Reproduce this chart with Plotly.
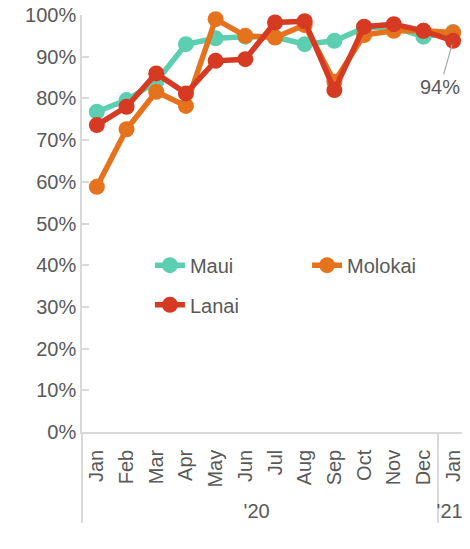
import plotly.graph_objects as go

years = ["'20"] * 12 + ["'21"]
months = ["Jan", "Feb", "Mar", "Apr", "May", "Jun", "Jul", "Aug", "Sep", "Oct", "Nov", "Dec", "Jan"]

maui = [0.768, 0.796, 0.840, 0.930, 0.944, 0.948, 0.947, 0.930, 0.938, 0.969, 0.971, 0.948, 0.959]
molokai = [0.588, 0.726, 0.816, 0.782, 0.990, 0.950, 0.946, 0.976, 0.840, 0.952, 0.962, 0.962, 0.958]
lanai = [0.736, 0.780, 0.860, 0.812, 0.890, 0.894, 0.982, 0.985, 0.820, 0.972, 0.978, 0.962, 0.938]

y_ticks = [i / 10 for i in range(11)]

FONT = "Liberation Sans"
GREY = "#595959"

fig = go.Figure()
series = [
    ("Maui", maui, "#5CCFB0", "legend"),
    ("Molokai", molokai, "#E5731E", "legend2"),
    ("Lanai", lanai, "#D63A22", "legend3"),
]
for name, vals, color, lg in series:
    fig.add_trace(go.Scatter(
        x=[years, months], y=vals, name=name, mode="lines+markers",
        line=dict(color=color, width=5.5), marker=dict(color=color, size=16),
        legend=lg, cliponaxis=False,
    ))

fig.add_annotation(
    x=12, y=lanai[-1], xref="x", yref="y", text="94%",
    showarrow=True, arrowhead=0, arrowwidth=1.2, arrowcolor="#A6A6A6",
    ax=-13, ay=46, standoff=4,
    font=dict(family=FONT, size=20, color=GREY),
)

leg = dict(orientation="h", xanchor="left", yanchor="middle",
           font=dict(family=FONT, size=20, color=GREY), bgcolor="rgba(0,0,0,0)")
fig.update_layout(
    width=462, height=541,
    margin=dict(l=74, r=2, t=7, b=117),
    paper_bgcolor="white", plot_bgcolor="white",
    font=dict(family=FONT, size=20, color=GREY),
    showlegend=True,
    legend=dict(leg, x=0.176, y=0.40),
    legend2=dict(leg, x=0.583, y=0.40),
    legend3=dict(leg, x=0.176, y=0.305),
    xaxis=dict(
        type="multicategory", tickangle=-90, showgrid=False, automargin=False,
        showline=True, linecolor="#D9D9D9", linewidth=1.5,
        ticks="", ticklabelstandoff=8,
        showdividers=True, dividercolor="#D9D9D9", dividerwidth=1.5,
        tickfont=dict(family=FONT, size=20, color=GREY),
        range=[-0.5, 12.5],
    ),
    yaxis=dict(
        range=[0, 1], tickvals=y_ticks, tickformat=".0%", showgrid=False, automargin=False,
        ticklabeloverflow="allow",
        showline=True, linecolor="#D9D9D9", linewidth=1.5,
        ticks="inside", ticklen=7, tickcolor="#D9D9D9", tickwidth=1.5,
        tickfont=dict(family=FONT, size=20, color=GREY), zeroline=False,
    ),
)

fig.write_html("out.html")
